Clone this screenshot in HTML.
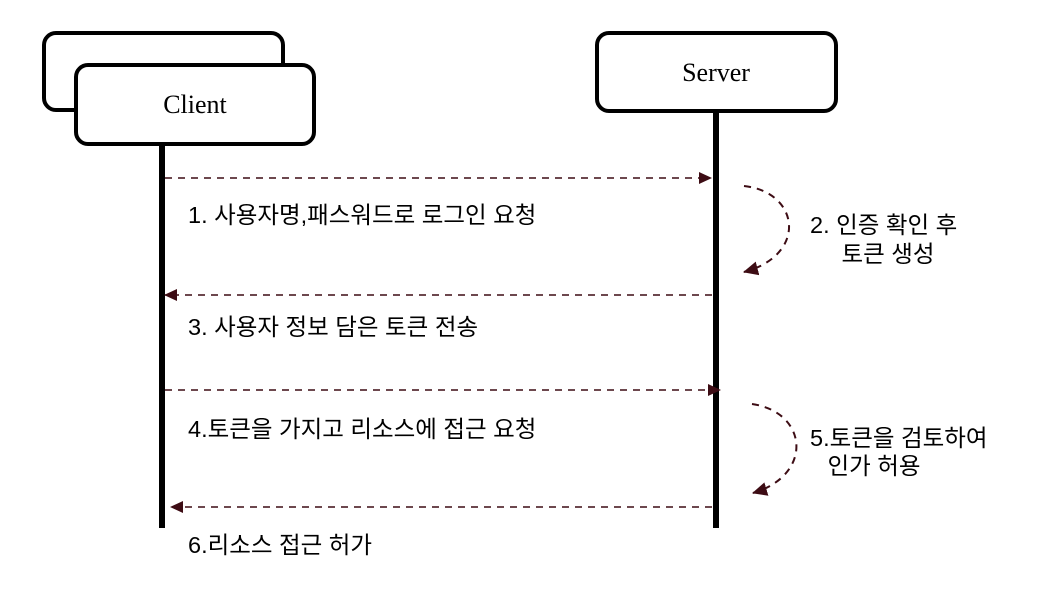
<!DOCTYPE html>
<html><head><meta charset="utf-8"><style>body{margin:0;background:#fff}svg{display:block}</style></head>
<body>
<svg width="1052" height="600" viewBox="0 0 1052 600" xmlns="http://www.w3.org/2000/svg">
<defs>
<marker id="a" markerWidth="14" markerHeight="14" refX="12" refY="6" orient="auto" markerUnits="userSpaceOnUse"><path d="M0,0 L13,6 L0,12 Z" fill="#3d0c14"/></marker>
<marker id="b" markerWidth="16" markerHeight="16" refX="14" refY="7" orient="auto" markerUnits="userSpaceOnUse"><path d="M0,0 L15,7 L0,14 Z" fill="#3d0c14"/></marker>
</defs>
<rect x="44" y="33" width="239" height="77" rx="12" fill="#fff" stroke="#000" stroke-width="4"/>
<rect x="76" y="65" width="238" height="79" rx="12" fill="#fff" stroke="#000" stroke-width="4"/>
<text x="195" y="113" font-family="Liberation Serif, serif" font-size="26" text-anchor="middle">Client</text>
<rect x="597" y="33" width="239" height="78" rx="12" fill="#fff" stroke="#000" stroke-width="4"/>
<text x="716" y="81" font-family="Liberation Serif, serif" font-size="26" text-anchor="middle">Server</text>
<line x1="162" y1="145" x2="162" y2="528" stroke="#000" stroke-width="6"/>
<line x1="716" y1="112" x2="716" y2="528" stroke="#000" stroke-width="6"/>
<g stroke="#3d0c14" stroke-width="1.6" stroke-dasharray="7,6" fill="none">
<line x1="165" y1="178" x2="711" y2="178" marker-end="url(#a)"/>
<line x1="712" y1="295" x2="165" y2="295" marker-end="url(#a)"/>
<line x1="165" y1="390" x2="720" y2="390" marker-end="url(#a)"/>
<line x1="712" y1="507" x2="171" y2="507" marker-end="url(#a)"/>
<path d="M744,186 C800,192 808,255 744,272" stroke-width="2" marker-end="url(#b)"/>
<path d="M752,404 C808,412 814,475 753,493" stroke-width="2" marker-end="url(#b)"/>
</g>
<g font-family="Liberation Sans, Noto Sans CJK KR, sans-serif" font-size="23.5" fill="#000">
<text x="188" y="223">1. 사용자명,패스워드로 로그인 요청</text>
<text x="188" y="335">3. 사용자 정보 담은 토큰 전송</text>
<text x="188" y="437">4.토큰을 가지고 리소스에 접근 요청</text>
<text x="188" y="553">6.리소스 접근 허가</text>
<text x="810" y="233">2. 인증 확인 후</text>
<text x="888" y="262" text-anchor="middle">토큰 생성</text>
<text x="810" y="446">5.토큰을 검토하여</text>
<text x="874" y="474" text-anchor="middle">인가 허용</text>
</g>
</svg>
</body></html>
